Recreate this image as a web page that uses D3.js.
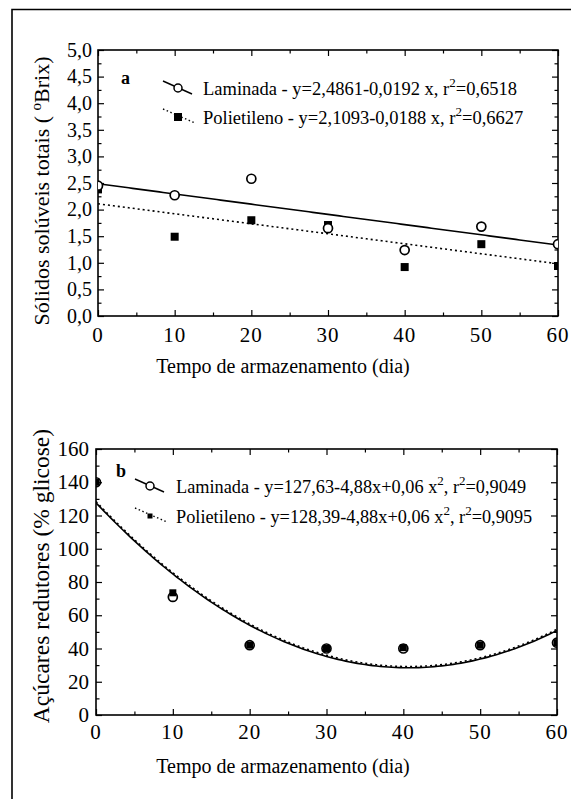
<!DOCTYPE html>
<html>
<head>
<meta charset="utf-8">
<script src="https://cdn.jsdelivr.net/npm/d3@7"></script>
<style>
  body { margin: 0; background: #fff; }
  svg { display: block; }
  svg text { font-family: "Liberation Serif", "Times New Roman", Times, serif; fill: #000; }
</style>
</head>
<body>
<svg id="chart" width="571" height="799"></svg>
<script>
// storage time (days)
const days = [0, 10, 20, 30, 40, 50, 60];

// panel a - total soluble solids (ºBrix)
const brixLaminada = [2.45, 2.27, 2.58, 1.65, 1.24, 1.68, 1.35];
const brixPolietileno = [2.38, 1.49, 1.80, 1.71, 0.92, 1.35, 0.94];
const brixFitLaminada = [2.4861, -0.0192];
const brixFitPolietileno = [2.1093, -0.0188];
const brixTicks = [0, 0.5, 1, 1.5, 2, 2.5, 3, 3.5, 4, 4.5, 5];

// panel b - reducing sugars (% glicose)
const sugarLaminada = [140, 71, 42, 40, 40, 42, 43.5];
const sugarPolietileno = [140, 73.5, 42, 40, 40.5, 42, 43.5];
const sugarFitLaminada = [127.63, -4.88, 0.06];
const sugarFitPolietileno = [128.39, -4.88, 0.06];
const sugarTicks = [0, 20, 40, 60, 80, 100, 120, 140, 160];

const dayTicks = [0, 10, 20, 30, 40, 50, 60];

const svg = d3.select("#chart");
const FONT = '"Liberation Serif", "Times New Roman", Times, serif';

// outer frame (cut at right/bottom like the scan)
svg.append("path")
    .attr("d", "M12,799 L12,9.5 L571,9.5")
    .attr("fill", "none")
    .attr("stroke", "#000")
    .attr("stroke-width", 1.6);

const fitX = d3.range(0, 60.5, 0.5);
const poly = (c, x) => c.reduce((s, k, i) => s + k * Math.pow(x, i), 0);

// text with superscript pieces, parts = ["plain", {up: "2"}, ...]
function richText(t, parts, rise, supSize) {
    let back = 0;
    parts.forEach(p => {
        if (typeof p === "object") {
            t.append("tspan").attr("dy", -rise - back).style("font-size", supSize).text(p.up);
            back = -rise;
        } else {
            t.append("tspan").attr("dy", -back).text(p);
            back = 0;
        }
    });
}

function panel(opt) {
    const g = svg.append("g").attr("font-family", FONT);
    const x = d3.scaleLinear().domain([0, 60]).range([opt.left, opt.right]);
    const y = d3.scaleLinear().domain(opt.yDomain).range([opt.bottom, opt.top]);

    const clipId = "clip-" + opt.id;
    g.append("clipPath").attr("id", clipId)
        .append("rect")
        .attr("x", opt.left).attr("y", opt.top)
        .attr("width", opt.right - opt.left).attr("height", opt.bottom - opt.top);

    // inward ticks on all four sides
    const minorX = d3.range(0, 61, 5);
    const minorY = d3.range(opt.yDomain[0], opt.yDomain[1] + 1e-9, opt.minorStep);
    const majorLen = 6, minorLen = 3.5;
    const isMajorX = v => v % 10 === 0;
    const isMajorY = v => Math.abs(v / opt.majorStep - Math.round(v / opt.majorStep)) < 1e-6;

    g.append("g").attr("transform", `translate(0,${opt.bottom})`)
        .call(d3.axisBottom(x).tickValues(minorX).tickSizeInner(-majorLen).tickSizeOuter(0).tickFormat(""))
        .call(a => a.selectAll(".tick line").attr("y2", d => isMajorX(d) ? -majorLen : -minorLen));
    g.append("g").attr("transform", `translate(0,${opt.top})`)
        .call(d3.axisTop(x).tickValues(minorX).tickSizeInner(-majorLen).tickSizeOuter(0).tickFormat(""))
        .call(a => a.selectAll(".tick line").attr("y2", d => isMajorX(d) ? majorLen : minorLen));
    g.append("g").attr("transform", `translate(${opt.left},0)`)
        .call(d3.axisLeft(y).tickValues(minorY).tickSizeInner(-majorLen).tickSizeOuter(0).tickFormat(""))
        .call(a => a.selectAll(".tick line").attr("x2", d => isMajorY(d) ? majorLen : minorLen));
    g.append("g").attr("transform", `translate(${opt.right},0)`)
        .call(d3.axisRight(y).tickValues(minorY).tickSizeInner(-majorLen).tickSizeOuter(0).tickFormat(""))
        .call(a => a.selectAll(".tick line").attr("x2", d => isMajorY(d) ? -majorLen : -minorLen));
    g.selectAll(".domain").remove();
    g.selectAll(".tick line").attr("stroke", "#000").attr("stroke-width", 1.2);

    g.append("rect")
        .attr("x", opt.left).attr("y", opt.top)
        .attr("width", opt.right - opt.left).attr("height", opt.bottom - opt.top)
        .attr("fill", "none").attr("stroke", "#000").attr("stroke-width", 1.6);

    // tick labels
    g.selectAll(".xlab").data(dayTicks).enter().append("text")
        .attr("x", d => x(d)).attr("y", opt.bottom + opt.xLabelOffset)
        .attr("text-anchor", "middle")
        .style("font-size", "21px")
        .style("letter-spacing", "1px")
        .text(d => d);
    g.selectAll(".ylab").data(opt.yTicks).enter().append("text")
        .attr("x", opt.left - opt.yLabelGap).attr("y", d => y(d))
        .attr("dy", "0.34em")
        .attr("text-anchor", "end")
        .style("font-size", opt.yTickFont)
        .text(opt.yFormat);

    // axis titles
    g.append("text")
        .attr("x", 283).attr("y", opt.bottom + opt.xTitleOffset)
        .attr("text-anchor", "middle")
        .style("font-size", "20px")
        .text("Tempo de armazenamento (dia)");

    const yt = g.append("text")
        .attr("transform", `translate(${opt.yTitleX},${opt.yTitleY}) rotate(-90)`)
        .attr("text-anchor", "middle")
        .style("font-size", opt.yTitleFont);
    richText(yt, opt.yTitle, 8, "15px");

    // fitted curves
    const plot = g.append("g").attr("clip-path", `url(#${clipId})`);
    const line = d3.line().x(d => x(d[0])).y(d => y(d[1]));
    plot.append("path")
        .attr("d", line(fitX.map(v => [v, poly(opt.fitA, v)])))
        .attr("fill", "none").attr("stroke", "#000").attr("stroke-width", 1.6);
    plot.append("path")
        .attr("d", line(fitX.map(v => [v, poly(opt.fitB, v)])))
        .attr("fill", "none").attr("stroke", "#000").attr("stroke-width", 1.6)
        .attr("stroke-dasharray", "2,3");

    // points
    plot.selectAll(".sq").data(days).enter().append("rect")
        .attr("x", (d, i) => x(d) - opt.sq / 2)
        .attr("y", (d, i) => y(opt.seriesB[i]) - opt.sq / 2)
        .attr("width", opt.sq).attr("height", opt.sq)
        .attr("fill", "#000");
    plot.selectAll(".ci").data(days).enter().append("circle")
        .attr("cx", d => x(d))
        .attr("cy", (d, i) => y(opt.seriesA[i]))
        .attr("r", 4.5)
        .attr("fill", opt.circleFill)
        .attr("stroke", "#000").attr("stroke-width", 1.7);

    // panel letter and legend
    g.append("text")
        .attr("x", opt.letter[0]).attr("y", opt.letter[1])
        .style("font-size", "18px").style("font-weight", "bold")
        .text(opt.id);

    const lg = opt.legend;
    g.append("line")
        .attr("x1", lg.x1).attr("y1", lg.y1 - 7).attr("x2", lg.x1 + 29).attr("y2", lg.y1 + 6)
        .attr("stroke", "#000").attr("stroke-width", 1.4);
    g.append("circle")
        .attr("cx", lg.x1 + 15).attr("cy", lg.y1).attr("r", 4)
        .attr("fill", "#fff").attr("stroke", "#000").attr("stroke-width", 1.5);
    g.append("line")
        .attr("x1", lg.x1).attr("y1", lg.y2 - 8).attr("x2", lg.x1 + 32).attr("y2", lg.y2 + 6)
        .attr("stroke", "#000").attr("stroke-width", 1.4).attr("stroke-dasharray", "1.5,2.5");
    g.append("rect")
        .attr("x", lg.x1 + 15 - lg.sq / 2).attr("y", lg.y2 - lg.sq / 2)
        .attr("width", lg.sq).attr("height", lg.sq).attr("fill", "#000");

    lg.texts.forEach((parts, i) => {
        const t = g.append("text")
            .attr("x", lg.tx).attr("y", (i === 0 ? lg.y1 : lg.y2) + 7)
            .style("font-size", lg.font);
        richText(t, parts, 8, "13px");
    });
}

const comma = d => d3.format(".1f")(d).replace(".", ",");

panel({
    id: "a", left: 98, right: 558, top: 50, bottom: 316,
    yDomain: [0, 5], majorStep: 0.5, minorStep: 0.25,
    yTicks: brixTicks, yFormat: comma, yTickFont: "20px", yLabelGap: 6,
    xLabelOffset: 26, xTitleOffset: 57,
    yTitleX: 49, yTitleY: 191, yTitleFont: "22px",
    yTitle: ["Sólidos solúveis totais ( ", {up: "o"}, "Brix)"],
    fitA: brixFitLaminada, fitB: brixFitPolietileno,
    seriesA: brixLaminada, seriesB: brixPolietileno,
    sq: 8, circleFill: "#fff",
    letter: [121, 84],
    legend: {
        x1: 163, y1: 88, y2: 117, sq: 8, tx: 203, font: "18.5px",
        texts: [
            ["Laminada - y=2,4861-0,0192 x, r", {up: "2"}, "=0,6518"],
            ["Polietileno - y=2,1093-0,0188 x, r", {up: "2"}, "=0,6627"]
        ]
    }
});

panel({
    id: "b", left: 96, right: 557, top: 449, bottom: 715,
    yDomain: [0, 160], majorStep: 20, minorStep: 10,
    yTicks: sugarTicks, yFormat: d => d, yTickFont: "21px", yLabelGap: 7,
    xLabelOffset: 24, xTitleOffset: 58,
    yTitleX: 49, yTitleY: 576, yTitleFont: "23.5px",
    yTitle: ["Açúcares redutores (% glicose)"],
    fitA: sugarFitLaminada, fitB: sugarFitPolietileno,
    seriesA: sugarLaminada, seriesB: sugarPolietileno,
    sq: 7, circleFill: "none",
    letter: [116, 477],
    legend: {
        x1: 135, y1: 486, y2: 516, sq: 5, tx: 176, font: "18.3px",
        texts: [
            ["Laminada - y=127,63-4,88x+0,06 x", {up: "2"}, ", r", {up: "2"}, "=0,9049"],
            ["Polietileno - y=128,39-4,88x+0,06 x", {up: "2"}, ", r", {up: "2"}, "=0,9095"]
        ]
    }
});
</script>
</body>
</html>
